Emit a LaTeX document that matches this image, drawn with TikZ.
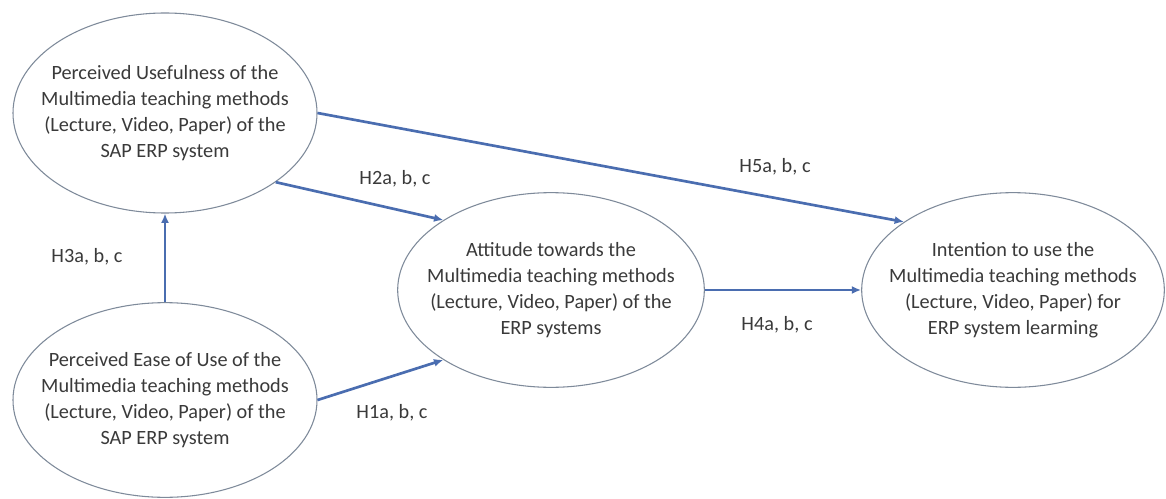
\documentclass[tikz,border=0pt]{standalone}
\usepackage{fontspec}
\setmainfont{Carlito}
\usetikzlibrary{shapes.geometric,arrows.meta}
\definecolor{arrowblue}{HTML}{4A6DB0}
\definecolor{ringgray}{HTML}{7E8A9A}
\definecolor{txtgray}{HTML}{3A3A3A}
\begin{document}
\begin{tikzpicture}[x=0.75pt,y=-0.75pt,
  construct/.style={ellipse,draw=ringgray,line width=0.8pt,inner sep=0pt},
  ctext/.style={align=center,text=txtgray,inner sep=0pt,font=\fontsize{15.2}{19.5}\selectfont},
  hyp/.style={text=txtgray,font=\fontsize{15.2}{19.5}\selectfont,inner sep=0pt},
  link/.style={draw=arrowblue,line width=2pt,-{Latex[length=7pt,width=6pt]}}]
\useasboundingbox[fill=white] (0,0) rectangle (1166,499);
\node[construct,minimum width=228pt,minimum height=150pt] (pu) at (165,113) {};
\node[ctext] (putext) at (pu.center)
  {Perceived Usefulness of the\\Multimedia teaching methods\\(Lecture, Video, Paper) of the\\SAP ERP system};
\node[construct,minimum width=228pt,minimum height=146pt] (peou) at (165,400) {};
\node[ctext] (peoutext) at (peou.center)
  {Perceived Ease of Use of the\\Multimedia teaching methods\\(Lecture, Video, Paper) of the\\SAP ERP system};
\node[construct,minimum width=230pt,minimum height=146pt] (att) at (551,290) {};
\node[ctext] (atttext) at (att.center)
  {Attitude towards the\\Multimedia teaching methods\\(Lecture, Video, Paper) of the\\ERP systems};
\node[construct,minimum width=227pt,minimum height=146pt] (int) at (1013,290) {};
\node[ctext] (inttext) at (int.center)
  {Intention to use the\\Multimedia teaching methods\\(Lecture, Video, Paper) for\\ERP system learming};
\draw[link] (peou.north) -- (pu.south);
\draw[link] (pu.-32) -- (att.147);
\draw[link] (pu.0) -- (int.148);
\draw[link] (peou.0) -- (att.213);
\draw[link] (att.east) -- (int.west);
\node[hyp] (h3) at (87,257) {H3a, b, c};
\node[hyp] (h2) at (395,179) {H2a, b, c};
\node[hyp] (h5) at (775,167) {H5a, b, c};
\node[hyp] (h1) at (392,413) {H1a, b, c};
\node[hyp] (h4) at (777,325) {H4a, b, c};
\end{tikzpicture}
\end{document}
